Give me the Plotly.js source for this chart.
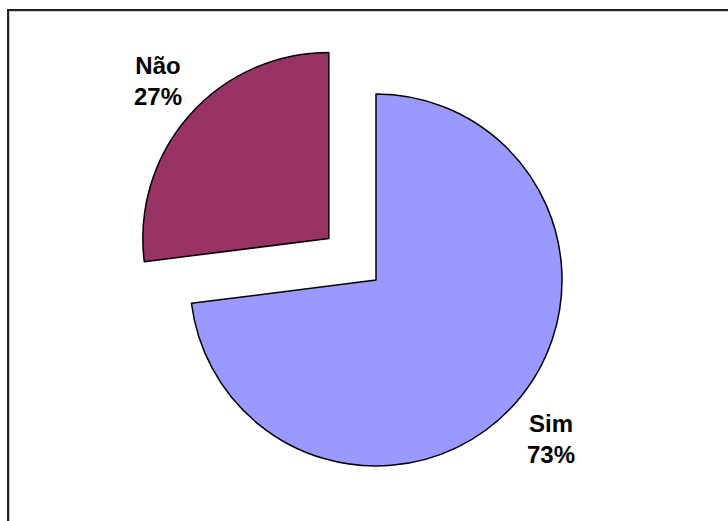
<!DOCTYPE html>
<html>
<head>
<meta charset="utf-8">
<script src="https://cdn.plot.ly/plotly-3.0.1.min.js"></script>
<style>
html, body { margin: 0; padding: 0; overflow: hidden; background: #fff; }
#chart { width: 728px; height: 540px; }
</style>
</head>
<body>
<div id="chart"></div>
<script>
var labels = ['Sim', 'Não'];
var values = [73, 27];
var pulls = [0, 0.338];
var colors = ['#9999FF', '#993366'];

var W = 728, H = 540;
var cx = 376, cyTop = 280, r = 186;
var maxPull = Math.max.apply(null, pulls);
var box = r * (2 + 2 * maxPull);
var cyBottom = H - cyTop;

var total = values.reduce(function (a, b) { return a + b; }, 0);

var trace = {
  type: 'pie',
  labels: labels,
  values: values,
  pull: pulls,
  sort: false,
  direction: 'clockwise',
  rotation: 0,
  marker: { colors: colors, line: { color: '#000000', width: 1.5 } },
  textinfo: 'none',
  showlegend: false,
  hoverinfo: 'label+percent',
  domain: {
    x: [(cx - box / 2) / W, (cx + box / 2) / W],
    y: [(cyBottom - box / 2) / H, (cyBottom + box / 2) / H]
  }
};

// label placement (pixels from top-left) for each slice
var labelPos = [[551, 439], [158, 81]];
var annFont = { family: 'Liberation Sans, Arial, sans-serif', size: 24, color: '#000000', weight: 'bold' };
var annotations = labels.map(function (lab, i) {
  return {
    xref: 'paper', yref: 'paper',
    x: labelPos[i][0] / W, y: 1 - labelPos[i][1] / H,
    xanchor: 'center', yanchor: 'middle',
    text: '<b>' + lab + '</b><br><b>' + Math.round(values[i] / total * 100) + '%</b>',
    showarrow: false,
    align: 'center',
    font: annFont
  };
});

var layout = {
  width: W,
  height: H,
  margin: { l: 0, r: 0, t: 0, b: 0 },
  paper_bgcolor: '#ffffff',
  showlegend: false,
  annotations: annotations,
  shapes: [
    { type: 'rect', xref: 'paper', yref: 'paper',
      x0: 9 / W, x1: 1.1, y0: -0.1, y1: 1 - 11 / H,
      line: { color: '#cccccc', width: 2 } },
    { type: 'rect', xref: 'paper', yref: 'paper',
      x0: 8 / W, x1: 1.1, y0: -0.1, y1: 1 - 10 / H,
      line: { color: '#222222', width: 2 } }
  ]
};

Plotly.newPlot('chart', [trace], layout, { displayModeBar: false, staticPlot: true });
</script>
</body>
</html>
